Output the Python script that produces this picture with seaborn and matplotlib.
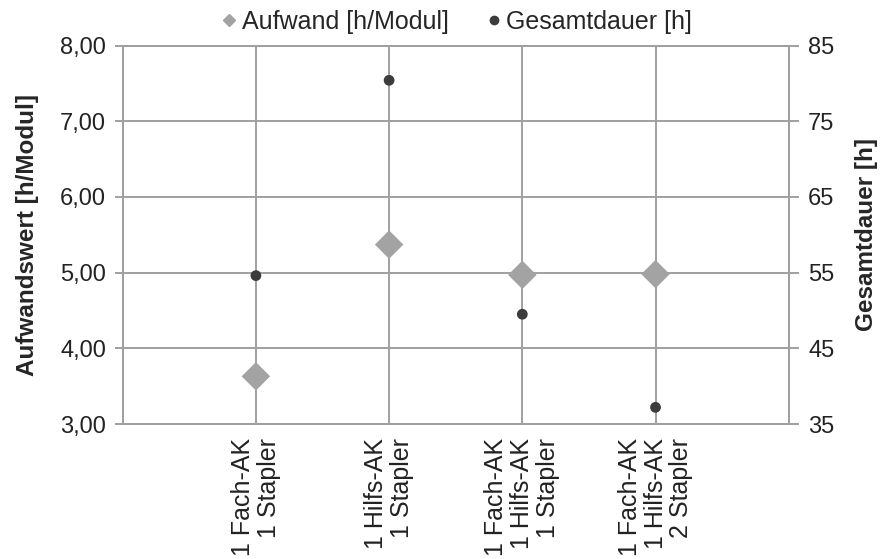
import seaborn as sns
import matplotlib.pyplot as plt
import matplotlib.transforms as mtransforms
import pandas as pd
from matplotlib.ticker import FuncFormatter, MultipleLocator
from matplotlib.lines import Line2D

categories = ['1 Fach-AK\n1 Stapler',
              '1 Hilfs-AK\n1 Stapler',
              '1 Fach-AK\n1 Hilfs-AK\n1 Stapler',
              '1 Fach-AK\n1 Hilfs-AK\n2 Stapler']
aufwand = [3.63, 5.37, 4.97, 4.98]
gesamtdauer = [54.6, 80.4, 49.5, 37.2]
right_ticks = [35, 45, 55, 65, 75, 85]

GRID = '#a0a0a0'
DIAMOND = '#a3a3a3'
DOT = '#3c3c3c'

sns.set_style('white')
plt.rcParams['font.family'] = ['Liberation Sans', 'DejaVu Sans']
plt.rcParams['font.size'] = 17

df = pd.DataFrame({'pos': range(1, len(categories) + 1),
                   'Aufwand': aufwand, 'Gesamtdauer': gesamtdauer})

fig = plt.figure(figsize=(8.86, 5.59), dpi=100)
ax = fig.add_axes([0.1385, 0.2415, 0.7517, 0.6771])
ax2 = ax.twinx()

sns.scatterplot(data=df, x='pos', y='Aufwand', ax=ax, marker='D', s=210,
                color=DIAMOND, edgecolor='none', zorder=3, legend=False)
sns.scatterplot(data=df, x='pos', y='Gesamtdauer', ax=ax2, marker='o', s=60,
                color=DOT, edgecolor='none', zorder=3, legend=False)

ax.set_xlim(0, 5)
ax.set_ylim(3, 8)
ax2.set_ylim(35, 85)
ax.yaxis.set_major_locator(MultipleLocator(1))
ax2.set_yticks(right_ticks)
ax.yaxis.set_major_formatter(FuncFormatter(lambda v, p: f'{v:.2f}'.replace('.', ',')))

ax.set_xticks(df['pos'])
ax.set_xticklabels(categories, rotation=90, ha='center', va='top',
                   multialignment='right', fontsize=18, linespacing=1.1)
off = mtransforms.ScaledTranslation(-11 / 100, 0, fig.dpi_scale_trans)
for lab in ax.get_xticklabels():
    lab.set_transform(lab.get_transform() + off)

ax.grid(True, color=GRID, linewidth=1.4)
ax.set_axisbelow(True)
ax2.grid(False)
for a in (ax, ax2):
    for sp in a.spines.values():
        sp.set_color(GRID)
        sp.set_linewidth(1.4)
    a.tick_params(colors=GRID, labelcolor='#222222', labelsize=17,
                  width=1.4, length=6)
ax.tick_params(axis='x', length=5, pad=5, labelsize=18)
ax.tick_params(axis='y', pad=6)
ax2.tick_params(axis='y', length=7, pad=7)

ax.set_xlabel('')
ax.set_ylabel('Aufwandswert [h/Modul]', fontweight='bold', fontsize=17.5, labelpad=15)
ax2.set_ylabel('Gesamtdauer [h]', fontweight='bold', fontsize=17.5, labelpad=15)

handles = [Line2D([], [], marker='D', linestyle='none', color=DIAMOND,
                  markersize=6, label='Aufwand [h/Modul]'),
           Line2D([], [], marker='o', linestyle='none', color=DOT,
                  markersize=6, label='Gesamtdauer [h]')]
ax.legend(handles=handles, loc='lower center', bbox_to_anchor=(0.5, 1.005),
          ncol=2, frameon=False, fontsize=18, handletextpad=0.1,
          columnspacing=1.4, borderaxespad=0.0, handlelength=0.8)

fig.savefig('out.png', dpi=100)
